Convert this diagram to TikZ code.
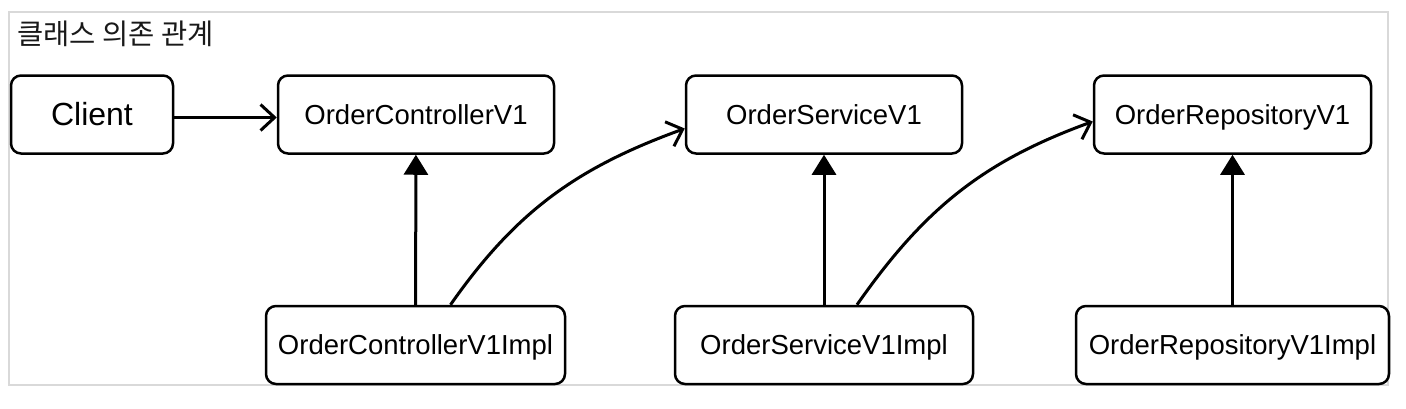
\documentclass[tikz,border=0pt]{standalone}
\usepackage{fontspec}
\setmainfont{Liberation Sans}
\newfontfamily\krfont{Noto Sans CJK KR}
\usetikzlibrary{arrows.meta,positioning}

\begin{document}
\begin{tikzpicture}[x=1pt, y=-1pt, >={Straight Barb[length=14pt,width=26pt]},
    box/.style={draw, line width=2.5pt, rounded corners=10pt, minimum height=78pt, inner sep=0pt, text height=19.7pt, text depth=0pt, font=\fontsize{27.5}{30}\selectfont},
    dep/.style={->, line width=3pt},
    impl/.style={-{Triangle[length=20pt,width=24pt]}, line width=3pt}]
    % Canvas and frame
    \useasboundingbox (0,0) rectangle (1406,408);
    \fill[white] (0,0) rectangle (1406,408);
    \draw[line width=2pt, black!15] (9,12) rectangle (1388,385);

    % Title
    \node[anchor=west, text=black!90, font=\krfont\fontsize{28.5}{30}\selectfont] (title) at (14,34) {클래스 의존 관계};

    % Interfaces (top row)
    \node[box, minimum width=162pt, text height=22.9pt, font=\fontsize{32}{36}\selectfont] (client) at (92,114.5) {Client};
    \node[box, minimum width=276pt] (ctrl) at (416,114.5) {OrderControllerV1};
    \node[box, minimum width=276pt] (svc) at (824,114.5) {OrderServiceV1};
    \node[box, minimum width=277pt] (repo) at (1232.5,114.5) {OrderRepositoryV1};

    % Implementations (bottom row)
    \node[box, minimum width=299pt] (ctrlimpl) at (415.5,345) {OrderControllerV1Impl};
    \node[box, minimum width=298pt] (svcimpl) at (824,345) {OrderServiceV1Impl};
    \node[box, minimum width=313pt] (repoimpl) at (1232.5,345) {OrderRepositoryV1Impl};

    % Dependencies
    \draw[dep] ([yshift=-3pt]client.east) -- ([yshift=-3pt]ctrl.west);
    \draw[dep] ([xshift=35pt]ctrlimpl.north) to[out=55, in=200] ([yshift=-14pt]svc.west);
    \draw[dep] ([xshift=33pt]svcimpl.north) to[out=55, in=200] ([yshift=-7pt]repo.west);

    % Realization arrows
    \draw[impl] (ctrlimpl) -- (ctrl);
    \draw[impl] (svcimpl) -- (svc);
    \draw[impl] (repoimpl) -- (repo);
\end{tikzpicture}
\end{document}
